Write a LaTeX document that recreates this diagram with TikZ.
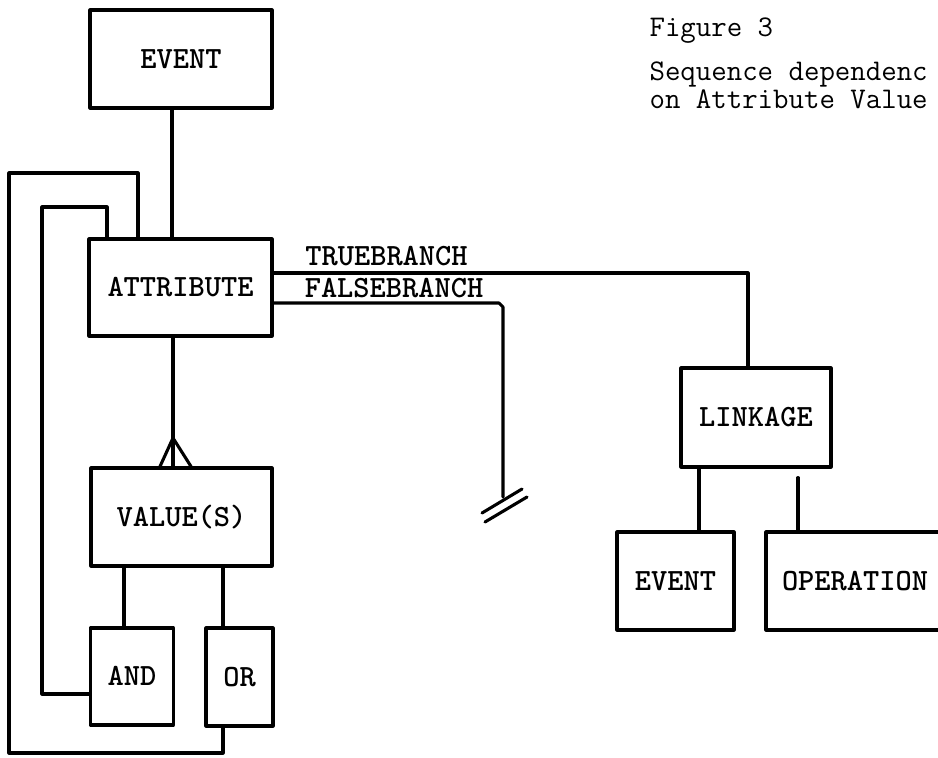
\documentclass[tikz,border=0pt]{standalone}
\usepackage{fontspec}
\usetikzlibrary{calc}
\newcommand{\lblfont}{\ttfamily\bfseries\fontsize{30.9}{33}\selectfont}
\newcommand{\ttlfont}{\ttfamily\fontsize{30}{33}\selectfont}
\begin{document}
\begin{tikzpicture}[x=1pt,y=-1pt,line width=3.1pt,line join=round,line cap=round,
  lbl/.style={font=\lblfont,text height=18.9pt,text depth=0pt,inner sep=0pt},
  ttl/.style={font=\ttlfont,inner sep=0pt,anchor=base west},
  box/.style={lbl,draw,rectangle}]
\useasboundingbox (0,0) rectangle (938,758);
\clip (0,0) rectangle (938,758);

% boxes
\node[box,minimum width=182pt,minimum height=98pt] (event1) at (181,59) {EVENT};
\node[box,minimum width=183pt,minimum height=97pt] (attr) at (180.5,287.5) {ATTRIBUTE};
\node[box,minimum width=181pt,minimum height=98pt] (vals) at (181.5,517) {VALUE(S)};
\node[box,minimum width=83pt,minimum height=97pt] (andb) at (132,676.5) {AND};
\node[box,minimum width=67pt,minimum height=98pt] (orb) at (239.5,677) {OR};
\node[box,minimum width=150pt,minimum height=99pt] (link) at (756,417.5) {LINKAGE};
\node[box,minimum width=117pt,minimum height=98pt] (ev2) at (675.5,581) {EVENT};
\node[box,minimum width=178pt,minimum height=98pt] (op) at (855,581) {OPERATION};

% title text
\node[ttl] (title) at (648,36) {Figure 3};
\node[ttl] (sub1) at (648,80) {Sequence dependenc};
\node[ttl] (sub2) at (648,108) {on Attribute Value};

% branch labels
\node[lbl] (tlabel) at (386.5,256) {TRUEBRANCH};
\node[lbl] (flabel) at (394,288) {FALSEBRANCH};

% column coordinates
\coordinate (cE) at (172,0);
\coordinate (cA) at (173,0);
\coordinate (cO1) at (138,0);
\coordinate (cI1) at (107,0);
\coordinate (oL) at (9,173);
\coordinate (oB) at (223,753);
\coordinate (iL) at (42,207);
\coordinate (cV1) at (124,0);
\coordinate (cV2) at (223,0);
\coordinate (tx) at (748,273);
\coordinate (fx) at (499,303);
\coordinate (gnd) at (503,497);
\coordinate (apex) at (173,438);
\coordinate (cL1) at (699,0);
\coordinate (cL2) at (798,0);

% EVENT -- ATTRIBUTE
\draw (event1.south -| cE) -- (attr.north -| cE);
% outer loop from ATTRIBUTE to OR
\draw (attr.north -| cO1) |- (oL) |- (oB) -- (orb.south -| oB);
% inner loop from ATTRIBUTE to AND
\draw (attr.north -| cI1) |- (iL) |- ($(andb.west)+(0,17.5)$);
% ATTRIBUTE -- VALUE(S) with crow's foot
\draw (attr.south -| cA) -- (vals.north -| cA);
\draw ($(vals.north -| cA)+(-13,0)$) -- (apex) -- ($(vals.north -| cA)+(18,0)$);
% VALUE(S) -- AND / OR
\draw (vals.south -| cV1) -- (andb.north -| cV1);
\draw (vals.south -| cV2) -- (orb.north -| cV2);
% true branch
\draw ($(attr.east)+(0,-14.5)$) -- (tx) -- (link.north -| tx);
% false branch
\draw ($(attr.east)+(0,15.5)$) -- (fx) -- ($(fx)+(4,4)$) -- (gnd);
\draw ($(gnd)+(-21,16)$) -- ($(gnd)+(19,-8)$);
\draw ($(gnd)+(-18,25)$) -- ($(gnd)+(24,0)$);
% LINKAGE -- EVENT / OPERATION
\draw (link.south -| cL1) -- (ev2.north -| cL1);
\draw ($(link.south -| cL2)+(0,9)$) -- (op.north -| cL2);
\end{tikzpicture}
\end{document}
